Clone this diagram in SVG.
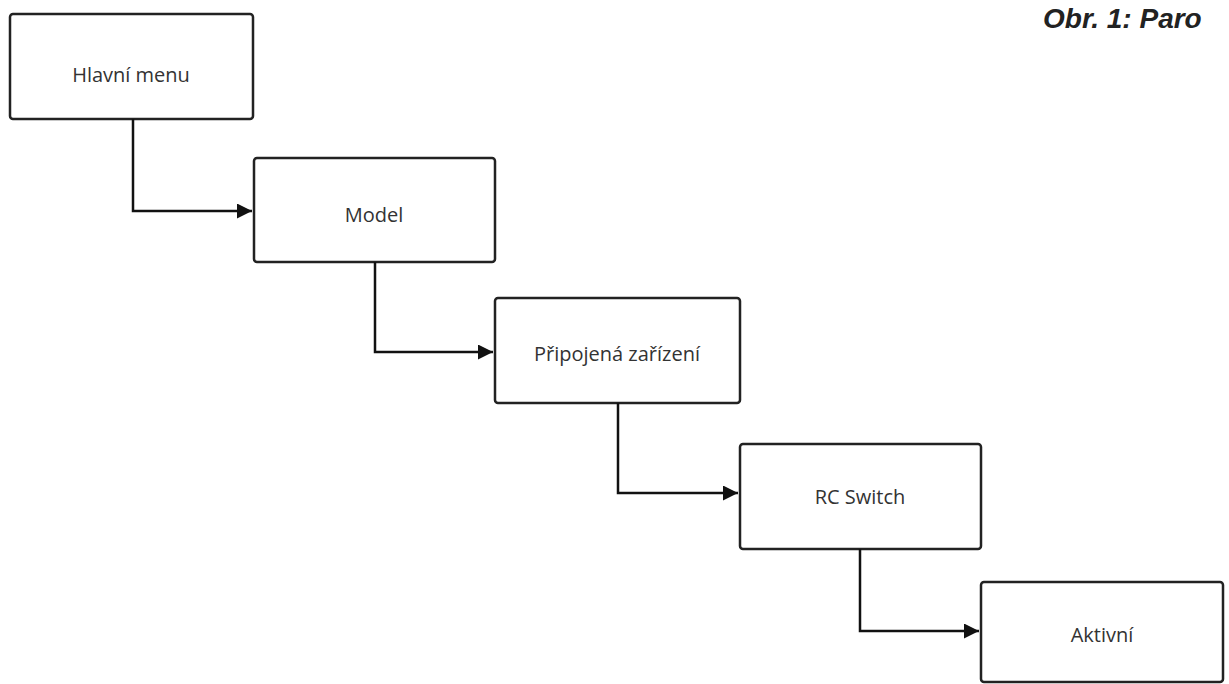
<svg xmlns="http://www.w3.org/2000/svg" width="1229" height="684" viewBox="0 0 1229 684">
<style>
.box{fill:#fff;stroke:#222;stroke-width:2.5}
.lbl{font-family:"Open Sans","DejaVu Sans",sans-serif;font-size:20px;fill:#333;text-anchor:middle;dominant-baseline:central}
.con{fill:none;stroke:#111;stroke-width:2.5}
</style>
<defs><marker id="ar" viewBox="0 0 10 10" refX="10" refY="5" markerWidth="6" markerHeight="6" orient="auto" markerUnits="strokeWidth"><path d="M0,0L10,5L0,10z" fill="#111"/></marker></defs>
<rect width="1229" height="684" fill="#fff"/>
<text x="1043" y="28" font-family="Liberation Sans,sans-serif" font-size="28" font-weight="bold" font-style="italic" fill="#222">Obr. 1: Paro</text>
<g id="n1"><rect class="box" x="10" y="14" width="243" height="105" rx="3"/><text class="lbl" x="131" y="74">Hlavní menu</text></g>
<g id="n2"><rect class="box" x="254" y="158" width="241" height="104" rx="3"/><text class="lbl" x="374" y="214">Model</text></g>
<g id="n3"><rect class="box" x="495" y="298" width="245" height="105" rx="3"/><text class="lbl" x="617" y="353">Připojená zařízení</text></g>
<g id="n4"><rect class="box" x="740" y="444" width="241" height="105" rx="3"/><text class="lbl" x="860" y="496">RC Switch</text></g>
<g id="n5"><rect class="box" x="981" y="582" width="242" height="100" rx="3"/><text class="lbl" x="1102" y="634">Aktivní</text></g>
<g id="connectors">
<path class="con" marker-end="url(#ar)" d="M133,119V211H252"/>
<path class="con" marker-end="url(#ar)" d="M375,262V352H493"/>
<path class="con" marker-end="url(#ar)" d="M618,403V493H738"/>
<path class="con" marker-end="url(#ar)" d="M860,549V631H979"/>
</g>
</svg>
